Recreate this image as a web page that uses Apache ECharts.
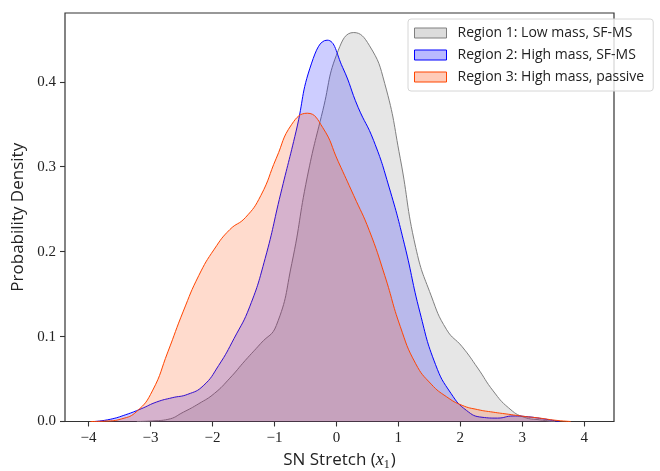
<!DOCTYPE html>
<html>
<head>
<meta charset="utf-8">
<script src="https://cdn.jsdelivr.net/npm/echarts@6/dist/echarts.min.js"></script>
<style>
  html, body { margin: 0; padding: 0; background: #ffffff; }
  #chart { width: 660px; height: 471px; }
</style>
</head>
<body>
<div id="chart"></div>
<script>
// Kernel density estimates of SN stretch for three host-galaxy regions
const seriesNames = [
  'Region 1: Low mass, SF-MS',
  'Region 2: High mass, SF-MS',
  'Region 3: High mass, passive'
];

// Each region is sampled on its own 0.25-wide grid, anchored at its peak
const region1X = [-3.22, -2.97, -2.72, -2.47, -2.22, -1.97, -1.72, -1.47, -1.22, -0.97, -0.72, -0.47, -0.22, 0.03, 0.28, 0.53, 0.78, 1.03, 1.28, 1.53, 1.78, 2.03, 2.28, 2.53, 2.78, 3.03, 3.28, 3.53];
const region1Y = [0, 0.0007, 0.0025, 0.011, 0.021, 0.033, 0.051, 0.072, 0.092, 0.113, 0.186, 0.288, 0.366, 0.437, 0.458, 0.443, 0.398, 0.31, 0.205, 0.148, 0.108, 0.088, 0.063, 0.036, 0.016, 0.005, 0.002, 0];

const region2X = [-3.9, -3.65, -3.4, -3.15, -2.9, -2.65, -2.4, -2.15, -1.9, -1.65, -1.4, -1.15, -0.9, -0.65, -0.4, -0.15, 0.1, 0.35, 0.6, 0.85, 1.1, 1.35, 1.6, 1.85, 2.1, 2.35, 2.6, 2.85, 3.1, 3.35, 3.6];
const region2Y = [0, 0.0026, 0.008, 0.015, 0.023, 0.028, 0.032, 0.042, 0.066, 0.098, 0.135, 0.192, 0.268, 0.342, 0.422, 0.449, 0.417, 0.37, 0.331, 0.276, 0.208, 0.128, 0.067, 0.033, 0.013, 0.005, 0.004, 0.0065, 0.0055, 0.003, 0];

const region3X = [-3.97, -3.72, -3.47, -3.22, -2.97, -2.72, -2.47, -2.22, -1.97, -1.72, -1.47, -1.22, -0.97, -0.72, -0.47, -0.22, 0.03, 0.28, 0.53, 0.78, 1.03, 1.28, 1.53, 1.78, 2.03, 2.28, 2.53, 2.78, 3.03, 3.28, 3.53, 3.78];
const region3Y = [0, 0.0005, 0.003, 0.012, 0.036, 0.082, 0.13, 0.172, 0.203, 0.226, 0.24, 0.266, 0.31, 0.35, 0.363, 0.346, 0.306, 0.266, 0.225, 0.172, 0.112, 0.068, 0.044, 0.029, 0.019, 0.014, 0.011, 0.0085, 0.006, 0.004, 0.0015, 0];

const xTicks = [-4, -3, -2, -1, 0, 1, 2, 3, 4];
const yTicks = [0, 0.1, 0.2, 0.3, 0.4];

const lineColors = ['#7f7f7f', '#0000ff', '#ff4500'];
const fillColors = ['rgba(128,128,128,0.28)', 'rgba(0,0,255,0.28)', 'rgba(255,69,0,0.28)'];

function pairs(xs, ys) { return xs.map((x, i) => [x, ys[i]]); }
const regionData = [pairs(region1X, region1Y), pairs(region2X, region2Y), pairs(region3X, region3Y)];

const serifFont = '"Liberation Serif", "DejaVu Serif", serif';
const sansFont = '"Open Sans", "DejaVu Sans", sans-serif';
const ink = '#222222';

const chart = echarts.init(document.getElementById('chart'), null, { renderer: 'canvas' });

chart.setOption({
  animation: false,
  backgroundColor: '#ffffff',
  grid: {
    left: 65, right: 46, top: 13, bottom: 49.5,
    outerBoundsMode: 'none',
    containLabel: false,
    show: true, borderColor: '#333333', borderWidth: 1.2,
    backgroundColor: 'transparent'
  },
  legend: {
    orient: 'vertical',
    left: 408, top: 19,
    padding: [7, 9, 7, 6],
    itemGap: 8,
    itemWidth: 32, itemHeight: 10,
    icon: 'rect',
    backgroundColor: 'rgba(255,255,255,0.8)',
    borderColor: '#d6d6d6', borderWidth: 1, borderRadius: 3,
    textStyle: { fontFamily: sansFont, fontSize: 14, color: ink, lineHeight: 13, padding: [0, 0, 0, 6] },
    data: seriesNames.map((name, i) => ({
      name: name,
      itemStyle: { color: fillColors[i], borderColor: lineColors[i], borderWidth: 1 }
    }))
  },
  xAxis: {
    type: 'value',
    min: -4.38, max: 4.48,
    name: '{t|SN Stretch (}{m|x}{s|1}{t|)}',
    nameLocation: 'middle',
    nameGap: 28,
    nameTextStyle: {
      rich: {
        t: { fontFamily: sansFont, fontSize: 17, color: ink },
        m: { fontFamily: serifFont, fontStyle: 'italic', fontSize: 18, color: ink },
        s: { fontFamily: serifFont, fontSize: 12, color: ink, padding: [9, 1, 0, 0] }
      }
    },
    axisLine: { show: false, onZero: false },
    splitLine: { show: false },
    axisTick: { show: true, length: 5, lineStyle: { color: '#333333', width: 1.1 }, customValues: xTicks },
    axisLabel: {
      customValues: xTicks,
      margin: 9,
      fontFamily: serifFont, fontSize: 15, color: ink,
      formatter: v => (v < 0 ? '\u2212' + Math.abs(v) : String(v))
    }
  },
  yAxis: {
    type: 'value',
    min: 0, max: 0.481,
    name: 'Probability Density',
    nameLocation: 'middle',
    nameRotate: 90,
    nameGap: 38,
    nameTextStyle: { fontFamily: sansFont, fontSize: 17, color: ink },
    axisLine: { show: false, onZero: false },
    splitLine: { show: false },
    axisTick: { show: true, length: 5, lineStyle: { color: '#333333', width: 1.1 }, customValues: yTicks },
    axisLabel: {
      customValues: yTicks,
      margin: 9,
      fontFamily: serifFont, fontSize: 15, color: ink,
      formatter: v => v.toFixed(1)
    }
  },
  series: seriesNames.map((name, i) => ({
    name: name,
    type: 'line',
    data: regionData[i],
    smooth: 0.5,
    showSymbol: false,
    symbol: 'none',
    lineStyle: { color: lineColors[i], width: 1 },
    itemStyle: { color: fillColors[i], borderColor: lineColors[i] },
    areaStyle: { color: fillColors[i], origin: 'start' },
    z: 2 + i
  }))
});
</script>
</body>
</html>
